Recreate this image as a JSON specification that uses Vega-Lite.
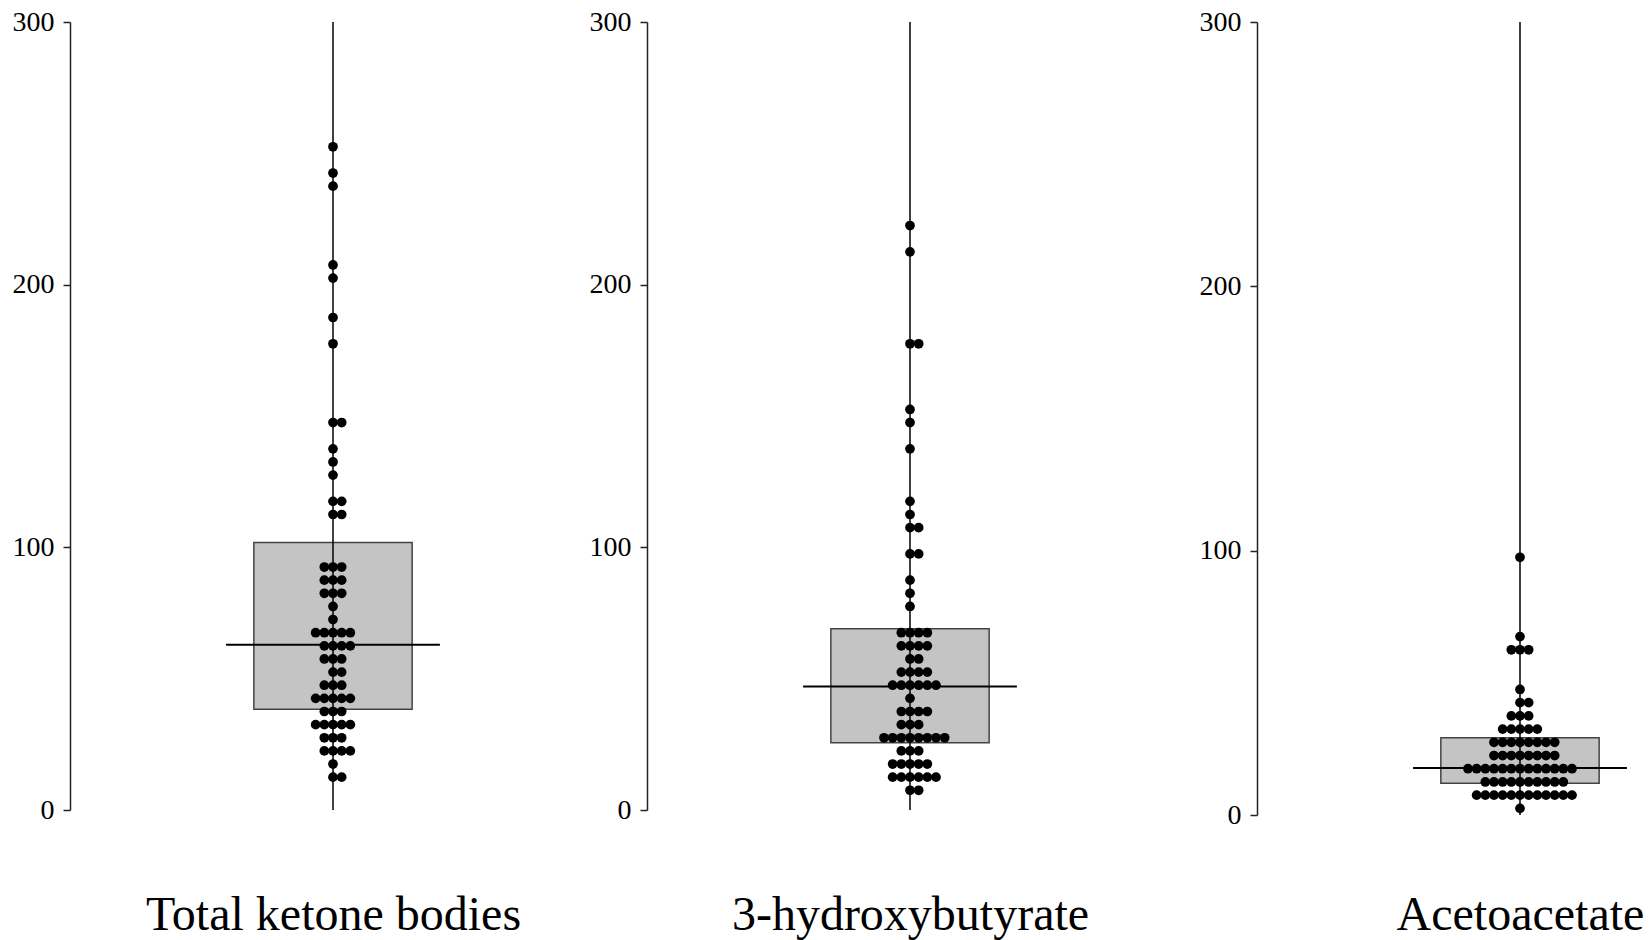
{
  "$schema": "https://vega.github.io/schema/vega-lite/v6.json",
  "autosize": {"type": "pad"},
  "padding": {"left": 12, "top": 8, "right": 0, "bottom": 0},
  "background": "white",
  "config": {"view": {"stroke": null}, "concat": {"spacing": 0}},
  "bounds": "flush",
  "spacing": 0,
  "datasets": {
    "box1": [{"q1": 38.4, "median": 62.9, "q3": 101.8}],
    "box2": [{"q1": 25.6, "median": 47.0, "q3": 69.0}],
    "box3": [{"q1": 12.0, "median": 17.8, "q3": 29.2}],
    "dots1": [
      {"v": 252.5}, {"v": 242.5}, {"v": 237.5}, {"v": 207.5}, {"v": 202.5}, {"v": 187.5}, {"v": 177.5},
      {"v": 147.5}, {"v": 147.5}, {"v": 137.5}, {"v": 132.5}, {"v": 127.5},
      {"v": 117.5}, {"v": 117.5}, {"v": 112.5}, {"v": 112.5},
      {"v": 92.5}, {"v": 92.5}, {"v": 92.5},
      {"v": 87.5}, {"v": 87.5}, {"v": 87.5},
      {"v": 82.5}, {"v": 82.5}, {"v": 82.5},
      {"v": 77.5}, {"v": 72.5},
      {"v": 67.5}, {"v": 67.5}, {"v": 67.5}, {"v": 67.5}, {"v": 67.5},
      {"v": 62.5}, {"v": 62.5}, {"v": 62.5}, {"v": 62.5},
      {"v": 57.5}, {"v": 57.5}, {"v": 57.5},
      {"v": 52.5}, {"v": 52.5},
      {"v": 47.5}, {"v": 47.5}, {"v": 47.5},
      {"v": 42.5}, {"v": 42.5}, {"v": 42.5}, {"v": 42.5}, {"v": 42.5},
      {"v": 37.5}, {"v": 37.5}, {"v": 37.5},
      {"v": 32.5}, {"v": 32.5}, {"v": 32.5}, {"v": 32.5}, {"v": 32.5},
      {"v": 27.5}, {"v": 27.5}, {"v": 27.5},
      {"v": 22.5}, {"v": 22.5}, {"v": 22.5}, {"v": 22.5},
      {"v": 17.5},
      {"v": 12.5}, {"v": 12.5}
    ],
    "dots2": [
      {"v": 222.5}, {"v": 212.5}, {"v": 177.5}, {"v": 177.5}, {"v": 152.5}, {"v": 147.5}, {"v": 137.5},
      {"v": 117.5}, {"v": 112.5}, {"v": 107.5}, {"v": 107.5}, {"v": 97.5}, {"v": 97.5},
      {"v": 87.5}, {"v": 82.5}, {"v": 77.5},
      {"v": 67.5}, {"v": 67.5}, {"v": 67.5}, {"v": 67.5},
      {"v": 62.5}, {"v": 62.5}, {"v": 62.5}, {"v": 62.5},
      {"v": 57.5}, {"v": 57.5},
      {"v": 52.5}, {"v": 52.5}, {"v": 52.5}, {"v": 52.5},
      {"v": 47.5}, {"v": 47.5}, {"v": 47.5}, {"v": 47.5}, {"v": 47.5}, {"v": 47.5},
      {"v": 42.5},
      {"v": 37.5}, {"v": 37.5}, {"v": 37.5}, {"v": 37.5},
      {"v": 32.5}, {"v": 32.5}, {"v": 32.5},
      {"v": 27.5}, {"v": 27.5}, {"v": 27.5}, {"v": 27.5}, {"v": 27.5}, {"v": 27.5}, {"v": 27.5}, {"v": 27.5},
      {"v": 22.5}, {"v": 22.5}, {"v": 22.5},
      {"v": 17.5}, {"v": 17.5}, {"v": 17.5}, {"v": 17.5}, {"v": 17.5},
      {"v": 12.5}, {"v": 12.5}, {"v": 12.5}, {"v": 12.5}, {"v": 12.5}, {"v": 12.5},
      {"v": 7.5}, {"v": 7.5}
    ],
    "dots3": [
      {"v": 97.5}, {"v": 67.5}, {"v": 62.5}, {"v": 62.5}, {"v": 62.5},
      {"v": 47.5}, {"v": 42.5}, {"v": 42.5},
      {"v": 37.5}, {"v": 37.5}, {"v": 37.5},
      {"v": 32.5}, {"v": 32.5}, {"v": 32.5}, {"v": 32.5}, {"v": 32.5},
      {"v": 27.5}, {"v": 27.5}, {"v": 27.5}, {"v": 27.5}, {"v": 27.5}, {"v": 27.5}, {"v": 27.5}, {"v": 27.5},
      {"v": 22.5}, {"v": 22.5}, {"v": 22.5}, {"v": 22.5}, {"v": 22.5}, {"v": 22.5}, {"v": 22.5}, {"v": 22.5},
      {"v": 17.5}, {"v": 17.5}, {"v": 17.5}, {"v": 17.5}, {"v": 17.5}, {"v": 17.5}, {"v": 17.5}, {"v": 17.5}, {"v": 17.5}, {"v": 17.5}, {"v": 17.5}, {"v": 17.5}, {"v": 17.5},
      {"v": 12.5}, {"v": 12.5}, {"v": 12.5}, {"v": 12.5}, {"v": 12.5}, {"v": 12.5}, {"v": 12.5}, {"v": 12.5}, {"v": 12.5}, {"v": 12.5},
      {"v": 7.5}, {"v": 7.5}, {"v": 7.5}, {"v": 7.5}, {"v": 7.5}, {"v": 7.5}, {"v": 7.5}, {"v": 7.5}, {"v": 7.5}, {"v": 7.5}, {"v": 7.5}, {"v": 7.5},
      {"v": 2.5}
    ]
  },
  "hconcat": [
    {
      "width": 576.5,
      "height": 788,
      "layer": [
        {
          "data": {"name": "box1"},
          "mark": {"type": "rect", "fill": "#c4c4c4", "stroke": "#444444", "strokeWidth": 1.5},
          "encoding": {
            "x": {"datum": -9.13, "type": "quantitative",
              "scale": {"domain": [-30.334, 36.159], "nice": false, "zero": false},
              "axis": {"title": "Total ketone bodies", "labels": false, "ticks": false, "domain": false, "grid": false,
                "titleX": 263, "titleY": 119.3, "titleBaseline": "alphabetic", "titleAlign": "center",
                "titleFont": "Liberation Serif", "titleFontSize": 48, "titleFontWeight": "normal", "titleColor": "black"}},
            "x2": {"datum": 9.13},
            "y": {"field": "q1", "type": "quantitative",
              "scale": {"domain": [0, 300], "nice": false, "zero": false},
              "axis": {"values": [0, 100, 200, 300], "title": null, "grid": false, "tickSize": 7, "tickColor": "#222222", "tickWidth": 1.5,
                "domainColor": "#222222", "domainWidth": 1.5, "labelFont": "Liberation Serif", "labelFontSize": 28,
                "labelColor": "black", "labelPadding": 9, "labelFlush": false}},
            "y2": {"field": "q3"}
          }
        },
        {
          "data": {"name": "box1"},
          "mark": {"type": "rule", "color": "black", "strokeWidth": 1.5},
          "encoding": {"x": {"datum": 0, "type": "quantitative"}, "y": {"datum": 0, "type": "quantitative"}, "y2": {"datum": 300}}
        },
        {
          "data": {"name": "box1"},
          "mark": {"type": "rule", "color": "black", "strokeWidth": 2},
          "encoding": {"x": {"datum": -12.33, "type": "quantitative"}, "x2": {"datum": 12.33}, "y": {"field": "median", "type": "quantitative"}}
        },
        {
          "data": {"name": "dots1"},
          "transform": [
            {"window": [{"op": "row_number", "as": "r"}], "groupby": ["v"]},
            {"calculate": "datum.r % 2 == 0 ? datum.r / 2 : -(datum.r - 1) / 2", "as": "off"}
          ],
          "mark": {"type": "circle", "size": 95, "opacity": 1, "color": "black"},
          "encoding": {"x": {"field": "off", "type": "quantitative"}, "y": {"field": "v", "type": "quantitative"}}
        }
      ]
    },
    {
      "width": 610,
      "height": 788,
      "layer": [
        {
          "data": {"name": "box2"},
          "mark": {"type": "rect", "fill": "#c4c4c4", "stroke": "#444444", "strokeWidth": 1.5},
          "encoding": {
            "x": {"datum": -9.13, "type": "quantitative",
              "scale": {"domain": [-30.334, 40.023], "nice": false, "zero": false},
              "axis": {"title": "3-hydroxybutyrate", "labels": false, "ticks": false, "domain": false, "grid": false,
                "titleX": 263, "titleY": 119.3, "titleBaseline": "alphabetic", "titleAlign": "center",
                "titleFont": "Liberation Serif", "titleFontSize": 48, "titleFontWeight": "normal", "titleColor": "black"}},
            "x2": {"datum": 9.13},
            "y": {"field": "q1", "type": "quantitative",
              "scale": {"domain": [0, 300], "nice": false, "zero": false},
              "axis": {"values": [0, 100, 200, 300], "title": null, "grid": false, "tickSize": 7, "tickColor": "#222222", "tickWidth": 1.5,
                "domainColor": "#222222", "domainWidth": 1.5, "labelFont": "Liberation Serif", "labelFontSize": 28,
                "labelColor": "black", "labelPadding": 9, "labelFlush": false}},
            "y2": {"field": "q3"}
          }
        },
        {
          "data": {"name": "box2"},
          "mark": {"type": "rule", "color": "black", "strokeWidth": 1.5},
          "encoding": {"x": {"datum": 0, "type": "quantitative"}, "y": {"datum": 0, "type": "quantitative"}, "y2": {"datum": 300}}
        },
        {
          "data": {"name": "box2"},
          "mark": {"type": "rule", "color": "black", "strokeWidth": 2},
          "encoding": {"x": {"datum": -12.33, "type": "quantitative"}, "x2": {"datum": 12.33}, "y": {"field": "median", "type": "quantitative"}}
        },
        {
          "data": {"name": "dots2"},
          "transform": [
            {"window": [{"op": "row_number", "as": "r"}], "groupby": ["v"]},
            {"calculate": "datum.r % 2 == 0 ? datum.r / 2 : -(datum.r - 1) / 2", "as": "off"}
          ],
          "mark": {"type": "circle", "size": 95, "opacity": 1, "color": "black"},
          "encoding": {"x": {"field": "off", "type": "quantitative"}, "y": {"field": "v", "type": "quantitative"}}
        }
      ]
    },
    {
      "width": 385,
      "height": 793,
      "layer": [
        {
          "data": {"name": "box3"},
          "mark": {"type": "rect", "fill": "#c4c4c4", "stroke": "#444444", "strokeWidth": 1.5},
          "encoding": {
            "x": {"datum": -9.13, "type": "quantitative",
              "scale": {"domain": [-30.334, 14.072], "nice": false, "zero": false},
              "axis": {"title": "Acetoacetate", "labels": false, "ticks": false, "domain": false, "grid": false,
                "titleX": 263, "titleY": 114.3, "titleBaseline": "alphabetic", "titleAlign": "center",
                "titleFont": "Liberation Serif", "titleFontSize": 48, "titleFontWeight": "normal", "titleColor": "black"}},
            "x2": {"datum": 9.13},
            "y": {"field": "q1", "type": "quantitative",
              "scale": {"domain": [0, 300], "nice": false, "zero": false},
              "axis": {"values": [0, 100, 200, 300], "title": null, "grid": false, "tickSize": 7, "tickColor": "#222222", "tickWidth": 1.5,
                "domainColor": "#222222", "domainWidth": 1.5, "labelFont": "Liberation Serif", "labelFontSize": 28,
                "labelColor": "black", "labelPadding": 9, "labelFlush": false}},
            "y2": {"field": "q3"}
          }
        },
        {
          "data": {"name": "box3"},
          "mark": {"type": "rule", "color": "black", "strokeWidth": 1.5},
          "encoding": {"x": {"datum": 0, "type": "quantitative"}, "y": {"datum": 0, "type": "quantitative"}, "y2": {"datum": 300}}
        },
        {
          "data": {"name": "box3"},
          "mark": {"type": "rule", "color": "black", "strokeWidth": 2},
          "encoding": {"x": {"datum": -12.33, "type": "quantitative"}, "x2": {"datum": 12.33}, "y": {"field": "median", "type": "quantitative"}}
        },
        {
          "data": {"name": "dots3"},
          "transform": [
            {"window": [{"op": "row_number", "as": "r"}], "groupby": ["v"]},
            {"calculate": "datum.r % 2 == 0 ? datum.r / 2 : -(datum.r - 1) / 2", "as": "off"}
          ],
          "mark": {"type": "circle", "size": 95, "opacity": 1, "color": "black"},
          "encoding": {"x": {"field": "off", "type": "quantitative"}, "y": {"field": "v", "type": "quantitative"}}
        }
      ]
    }
  ]
}
